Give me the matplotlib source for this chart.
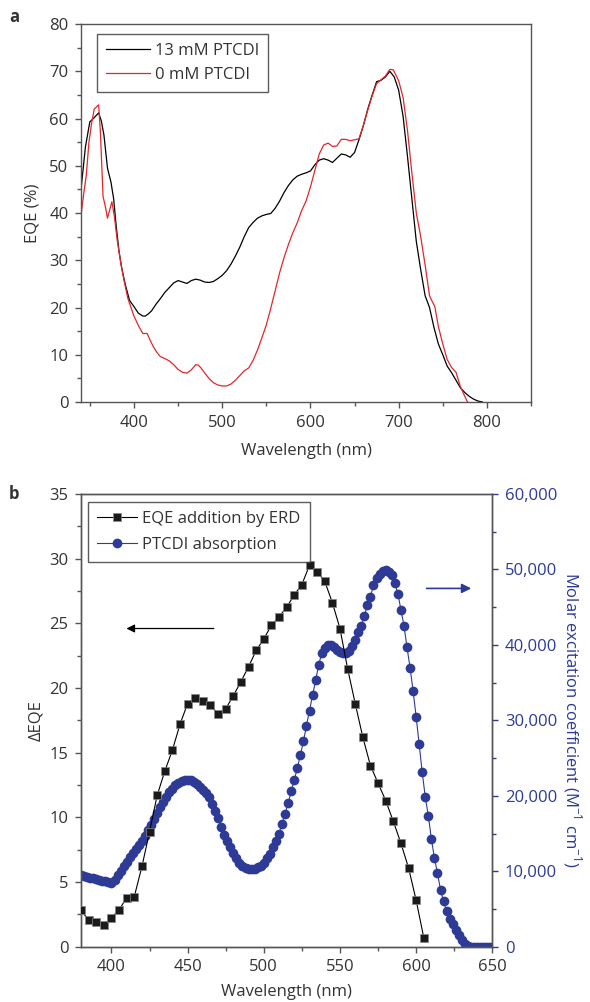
import matplotlib
matplotlib.use("Agg")
import matplotlib.pyplot as plt
from matplotlib.ticker import MultipleLocator, FuncFormatter

plt.rcParams['font.family'] = ['Open Sans', 'DejaVu Sans']
plt.rcParams['mathtext.fontset'] = 'custom'
plt.rcParams['mathtext.rm'] = 'Open Sans'
plt.rcParams['font.size'] = 12

TXT = '#333333'
BLUE = '#2d3a96'
RED = '#e3262b'

# ---- panel a: EQE spectra ----
wl_13 = [340, 345, 350, 355, 360, 363, 366, 370, 374, 377, 380, 383, 386, 390, 395,
         400, 405, 410, 413, 416, 420, 425, 430, 435, 440, 445, 450, 455, 460, 465,
         470, 475, 480, 485, 490, 495, 500, 505, 510, 515, 520, 525, 530, 535, 540,
         545, 550, 555, 560, 565, 570, 575, 580, 585, 590, 595, 600, 605, 610, 615,
         620, 625, 630, 635, 640, 645, 650, 655, 660, 665, 670, 675, 680, 685, 690,
         695, 700, 705, 710, 715, 720, 725, 730, 735, 740, 745, 750, 755, 760, 765,
         770, 775, 780, 785, 790, 795]
eqe_13 = [45, 54, 59.3, 60.2, 61.2, 59.5, 56.5, 49.5, 46.5, 43, 37, 32, 28.5, 25, 21.5,
          20.2, 18.8, 18.2, 18.2, 18.6, 19.3, 20.7, 21.9, 23.2, 24.2, 25.2, 25.7, 25.4, 25.1, 25.7,
          26.0, 25.8, 25.4, 25.3, 25.5, 26.1, 26.8, 27.8, 29.2, 30.9, 32.8, 35.0, 36.9, 38.0, 38.9,
          39.4, 39.7, 39.9, 41.0, 42.5, 44.3, 45.8, 47.0, 47.8, 48.2, 48.5, 48.9, 50.2, 51.2, 51.5,
          51.2, 50.7, 51.6, 52.5, 52.3, 51.8, 52.8, 55.5, 58.5, 62.0, 65.0, 67.8, 68.1, 68.8, 70.0,
          68.8, 66.0, 60.5, 52, 43, 34, 28, 22.5, 20, 15.8, 12.3, 10.0, 7.6, 6.2, 4.6,
          3.0, 2.0, 1.2, 0.6, 0.2, 0]

wl_0 = [340, 343, 346, 349, 352, 355, 360, 362, 365, 368, 370, 373, 375, 378, 381,
        385, 389, 393, 397, 400, 405, 410, 415, 418, 422, 426, 430, 435, 440, 445,
        450, 455, 460, 465, 470, 473, 476, 480, 485, 490, 495, 500, 505, 510, 515,
        520, 525, 530, 535, 540, 545, 550, 555, 560, 565, 570, 575, 580, 585, 590,
        595, 600, 605, 610, 615, 620, 625, 630, 635, 640, 645, 650, 655, 660, 665,
        670, 675, 680, 685, 690, 694, 700, 705, 710, 715, 720, 725, 730, 735, 738,
        741, 745, 750, 755, 760, 765, 770, 775, 778]
eqe_0 = [39.5, 44, 48, 55, 59, 62, 62.9, 57, 43.5, 41, 38.9, 41, 42.4, 39, 34.3,
         29.5, 25.5, 22, 19.8, 18.2, 16.2, 14.5, 14.5, 13.2, 11.7, 10.5, 9.6, 9.2, 8.7, 7.9,
         6.9, 6.3, 6.1, 6.8, 7.9, 7.8, 7.2, 6.2, 5.0, 4.1, 3.6, 3.4, 3.4, 3.8, 4.6,
         5.6, 6.6, 7.2, 8.8, 11.0, 13.6, 16.3, 19.8, 23.5, 27.3, 30.5, 33.3, 35.8, 37.9, 40.5,
         42.5, 45.5, 49.0, 52.5, 54.4, 54.8, 54.1, 54.2, 55.6, 55.6, 55.3, 55.5, 55.7, 58.5, 61.8,
         64.8, 67.4, 68.2, 69.0, 70.4, 70.3, 68.0, 64.5, 57.5, 48.5, 40, 35, 29, 22.5, 21.3,
         20.2, 16, 12.3, 9.0, 7.3, 6.3, 3.2, 1.2, 0]

# ---- panel b: EQE addition and absorption ----
wl_add = [380, 385, 390, 395, 400, 405, 410, 415, 420, 425, 430, 435, 440, 445, 450,
          455, 460, 465, 470, 475, 480, 485, 490, 495, 500, 505, 510, 515, 520, 525,
          530, 535, 540, 545, 550, 555, 560, 565, 570, 575, 580, 585, 590, 595, 600, 605]
d_eqe = [2.8, 2.07, 1.9, 1.68, 2.25, 2.84, 3.8, 3.88, 6.2, 8.9, 11.7, 13.57, 15.2, 17.2, 18.8,
         19.2, 19.0, 18.65, 18.0, 18.4, 19.4, 20.5, 21.65, 22.9, 23.8, 24.85, 25.5, 26.25, 27.2, 28.0,
         29.5, 29.0, 28.25, 26.6, 24.6, 21.5, 18.8, 16.2, 14.0, 12.65, 11.3, 9.7, 8.0, 6.1, 3.6, 0.7]

wl_abs = list(range(380, 651, 2))
molar = [9500, 9400, 9280, 9170, 9060, 8950, 8850, 8750, 8650, 8560,
         8480, 8900, 9450, 10050, 10650, 11250, 11850, 12450, 13000, 13500,
         13950, 14650, 15400, 16150, 16900, 17700, 18500, 19200, 19850, 20450,
         20950, 21400, 21750, 21950, 22050, 22100, 22050, 21850, 21500, 21150,
         20800, 20400, 19800, 18950, 17950, 17000, 15900, 14850, 14000, 13200,
         12400, 11700, 11100, 10700, 10400, 10250, 10250, 10350, 10500, 10750,
         11150, 11700, 12350, 13150, 14050, 15000, 16300, 17650, 19050, 20600,
         22150, 23650, 25400, 27200, 29300, 31300, 33300, 35300, 37300, 38900,
         39600, 40000, 39950, 39700, 39350, 39100, 38950, 38900, 39200, 39900,
         40650, 41700, 42500, 43800, 45300, 46400, 47900, 48800, 49400, 49850,
         49950, 49700, 49250, 48200, 46800, 44650, 42550, 39700, 37000, 33900,
         30500, 26800, 23100, 19850, 17350, 14300, 11750, 9750, 7550, 6000,
         4700, 3650, 2950, 2200, 1500, 850, 400, 80, 0, 0,
         0, 0, 0, 0, 0, 0]

fig = plt.figure(figsize=(5.9, 10.02), dpi=100)


def style_axis(ax):
    for s in ax.spines.values():
        s.set_color('#555555')
        s.set_linewidth(1.0)
    ax.tick_params(which='both', direction='out', colors='#555555', labelcolor=TXT,
                   top=False, right=False, labelsize=12, pad=5)
    ax.tick_params(which='major', length=4, width=1)
    ax.tick_params(which='minor', length=3, width=1)


# panel a
ax1 = fig.add_axes([0.1373, 0.5988, 0.7627, 0.3772])
ax1.plot(wl_13, eqe_13, color='black', lw=0.9, label='13 mM PTCDI')
ax1.plot(wl_0, eqe_0, color=RED, lw=0.9, label='0 mM PTCDI')
ax1.set_xlim(340, 850)
ax1.set_ylim(0, 80)
ax1.xaxis.set_major_locator(MultipleLocator(100))
ax1.xaxis.set_minor_locator(MultipleLocator(50))
ax1.yaxis.set_major_locator(MultipleLocator(10))
ax1.yaxis.set_minor_locator(MultipleLocator(5))
style_axis(ax1)
ax1.set_xlabel('Wavelength (nm)', color=TXT, fontsize=12, labelpad=9)
ax1.set_ylabel('EQE (%)', color=TXT, fontsize=12, labelpad=6)
leg1 = ax1.legend(loc='upper left', bbox_to_anchor=(0.036, 0.974), borderaxespad=0,
                  fancybox=False, edgecolor='#333333', handlelength=2.6,
                  handletextpad=0.3, borderpad=0.55, labelspacing=0.45, fontsize=12)
leg1.get_frame().set_linewidth(1.0)
for t in leg1.get_texts():
    t.set_color(TXT)
fig.text(0.015, 0.978, 'a', fontsize=12, fontweight='bold', color=TXT)

# panel b
ax2 = fig.add_axes([0.1373, 0.0552, 0.6971, 0.4518])
ax3 = ax2.twinx()
ax2.plot(wl_add, d_eqe, color='black', lw=0.8, marker='s', markersize=6,
         markerfacecolor='#1a1a1a', markeredgecolor='#888888', markeredgewidth=0.5,
         label='EQE addition by ERD', zorder=3)
ax3.plot(wl_abs, molar, color=BLUE, lw=0.8, marker='o', markersize=7,
         markerfacecolor=BLUE, markeredgecolor=BLUE, markeredgewidth=0,
         label='PTCDI absorption')
ax2.set_zorder(ax3.get_zorder() + 1)
ax2.patch.set_visible(False)
ax2.set_xlim(380, 650)
ax2.set_ylim(0, 35)
ax3.set_ylim(0, 60000)
ax2.xaxis.set_major_locator(MultipleLocator(50))
ax2.xaxis.set_minor_locator(MultipleLocator(25))
ax2.yaxis.set_major_locator(MultipleLocator(5))
ax2.yaxis.set_minor_locator(MultipleLocator(2.5))
ax3.yaxis.set_major_locator(MultipleLocator(10000))
ax3.yaxis.set_minor_locator(MultipleLocator(5000))
ax3.yaxis.set_major_formatter(FuncFormatter(lambda v, p: f'{int(v):,}'))
style_axis(ax2)
style_axis(ax3)
ax3.spines['right'].set_color(BLUE)
ax3.tick_params(which='both', right=True, left=False, colors=BLUE, labelcolor=BLUE)
ax2.set_xlabel('Wavelength (nm)', color=TXT, fontsize=12, labelpad=6)
ax2.set_ylabel('ΔEQE', color=TXT, fontsize=12, labelpad=4)
ax3.set_ylabel('Molar excitation coefficient (M$^{-1}$ cm$^{-1}$)', color=BLUE,
               fontsize=12, rotation=-90, labelpad=19)

ax2.annotate('', xy=(408, 24.6), xytext=(469, 24.6),
             arrowprops=dict(arrowstyle='-|>', color='black', lw=0.9,
                             mutation_scale=12))
ax2.annotate('', xy=(638, 27.7), xytext=(605, 27.7),
             arrowprops=dict(arrowstyle='-|>', color=BLUE, lw=1.2,
                             mutation_scale=14))

h2, l2 = ax2.get_legend_handles_labels()
h3, l3 = ax3.get_legend_handles_labels()
leg2 = ax2.legend(h2 + h3, l2 + l3, loc='upper left', bbox_to_anchor=(0.017, 0.983),
                  borderaxespad=0, fancybox=False, edgecolor='#333333',
                  handlelength=2.4, handletextpad=0.3, borderpad=0.55,
                  labelspacing=0.6, fontsize=12)
leg2.get_frame().set_linewidth(1.0)
for t in leg2.get_texts():
    t.set_color(TXT)
fig.text(0.015, 0.502, 'b', fontsize=12, fontweight='bold', color=TXT)

fig.savefig('out.png', dpi=100)
